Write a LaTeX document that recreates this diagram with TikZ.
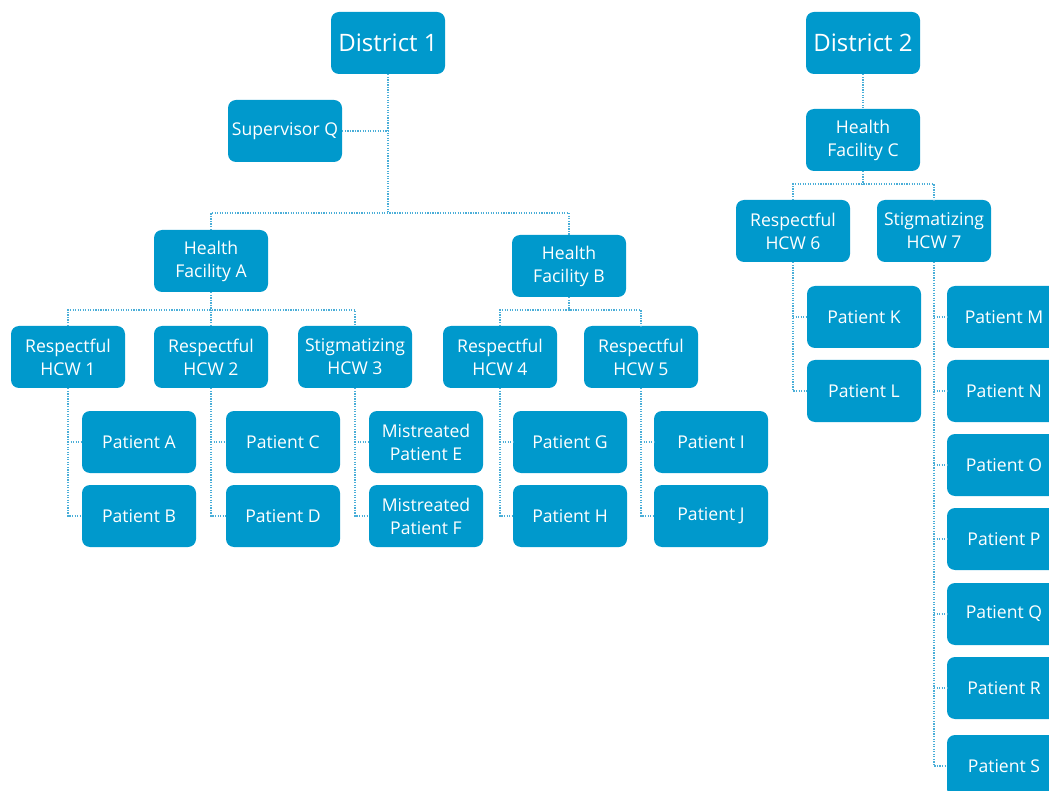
\documentclass[tikz,border=0pt]{standalone}
\usepackage{fontspec}
\setmainfont{Open Sans}
\definecolor{boxblue}{HTML}{0099CC}
\definecolor{lineblue}{HTML}{4AAED8}
\tikzset{
  unit/.style={rectangle, rounded corners=6pt, fill=boxblue, text=white,
    minimum width=85.5pt, minimum height=46.5pt, align=center, inner sep=1pt,
    font=\fontsize{13.2}{17.2}\selectfont},
  district/.style={unit, font=\fontsize{18}{22}\selectfont},
  link/.style={lineblue, densely dotted, line width=0.9pt}
}
\begin{document}
\begin{tikzpicture}[x=0.75pt,y=-0.75pt]
    \useasboundingbox (0,0) rectangle (1049,791);
    % district 1
    \node[district] (d1) at (388,43) {District 1};
    \node[unit] (supq) at (285,131) {Supervisor Q};
    \node[unit] (hfa) at (211,261) {Health\\Facility A};
    \node[unit] (hfb) at (569,266) {Health\\Facility B};
    \node[unit] (hcw1) at (68,357) {Respectful\\HCW 1};
    \node[unit] (hcw2) at (211,357) {Respectful\\HCW 2};
    \node[unit] (hcw3) at (355,357) {Stigmatizing\\HCW 3};
    \node[unit] (hcw4) at (500,357) {Respectful\\HCW 4};
    \node[unit] (hcw5) at (641,357) {Respectful\\HCW 5};
    \node[unit] (pa) at (139,442) {Patient A};
    \node[unit] (pb) at (139,516) {Patient B};
    \node[unit] (pc) at (283,442) {Patient C};
    \node[unit] (pd) at (283,516) {Patient D};
    \node[unit] (pe) at (426,442) {Mistreated\\Patient E};
    \node[unit] (pf) at (426,516) {Mistreated\\Patient F};
    \node[unit] (pg) at (570,442) {Patient G};
    \node[unit] (ph) at (570,516) {Patient H};
    \node[unit] (pi) at (711,442) {Patient I};
    \node[unit] (pj) at (711,516) {Patient J};
    % district 2
    \node[district] (d2) at (863,43) {District 2};
    \node[unit] (hfc) at (863,140) {Health\\Facility C};
    \node[unit] (hcw6) at (793,231) {Respectful\\HCW 6};
    \node[unit] (hcw7) at (934,231) {Stigmatizing\\HCW 7};
    \node[unit] (pk) at (864,317) {Patient K};
    \node[unit] (pl) at (864,391) {Patient L};
    \node[unit] (pm) at (1004,317) {Patient M};
    \node[unit] (pn) at (1004,391) {Patient N};
    \node[unit] (po) at (1004,465) {Patient O};
    \node[unit] (pp) at (1004,539) {Patient P};
    \node[unit] (pq) at (1004,614) {Patient Q};
    \node[unit] (pr) at (1004,688) {Patient R};
    \node[unit] (ps) at (1004,766) {Patient S};
    % junctions
    \coordinate (j1) at (388,213);
    \coordinate (ja) at (211,310);
    \coordinate (jb) at (569,310);
    \coordinate (jc) at (863,184);
    % links
    \draw[link] (d1.south) -- (j1);
    \draw[link] (supq.east) -- (supq.east -| d1);
    \draw[link] (hfa.north) |- (j1) -| (hfb.north);
    \draw[link] (hfa.south) -- (ja);
    \draw[link] (hcw1.north) |- (ja) -| (hcw3.north);
    \draw[link] (hcw2.north) -- (ja);
    \draw[link] (hfb.south) -- (jb);
    \draw[link] (hcw4.north) |- (jb) -| (hcw5.north);
    \draw[link] (d2.south) -- (hfc.north);
    \draw[link] (hfc.south) -- (jc);
    \draw[link] (hcw6.north) |- (jc) -| (hcw7.north);
    \foreach \h/\a/\b in {hcw1/pa/pb, hcw2/pc/pd, hcw3/pe/pf, hcw4/pg/ph, hcw5/pi/pj, hcw6/pk/pl} {
      \draw[link] (\h.south) |- (\b.west);
      \draw[link] (\h.south |- \a.west) -- (\a.west);
    }
    \draw[link] (hcw7.south) |- (ps.west);
    \foreach \p in {pm,pn,po,pp,pq,pr}
      \draw[link] (hcw7.south |- \p.west) -- (\p.west);
\end{tikzpicture}
\end{document}
